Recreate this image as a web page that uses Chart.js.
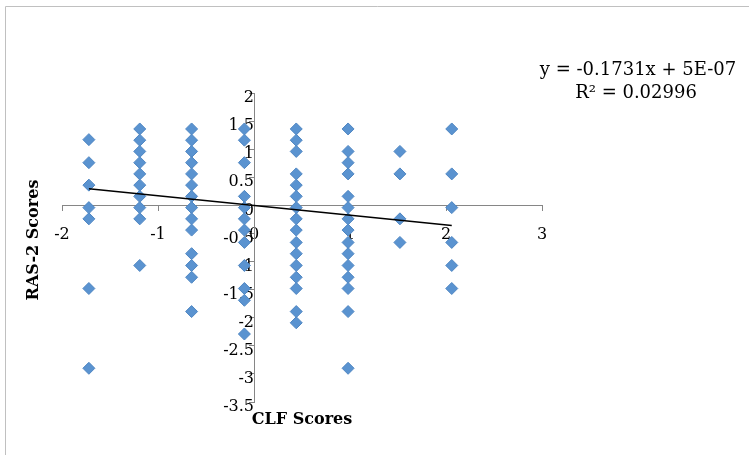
<!DOCTYPE html>
<html>
<head>
<meta charset="utf-8">
<script src="https://cdn.jsdelivr.net/npm/chart.js@4/dist/chart.umd.min.js"></script>
<style>
  html, body { margin: 0; padding: 0; background: #fff; }
  #wrap { width: 749px; height: 455px; position: relative; }
</style>
</head>
<body>
<div id="wrap"><canvas id="c" width="749" height="455"></canvas></div>
<script>
// CLF score levels (x) and the RAS-2 scores seen at each level (y)
const clfLevels = [-1.72, -1.19, -0.65, -0.10, 0.44, 0.98, 1.52, 2.06];
const ras1 = [1.17, 0.76, 0.36, -0.04, -0.24, -1.48, -2.90];
const ras2 = [1.36, 1.16, 0.96, 0.76, 0.56, 0.36, 0.16, -0.04, -0.24, -1.07];
const ras3 = [1.36, 1.16, 0.96, 0.76, 0.56, 0.36, 0.16, -0.04, -0.24, -0.44, -0.86, -1.07, -1.28, -1.89];
const ras4 = [1.36, 1.16, 0.76, 0.16, -0.04, -0.24, -0.44, -0.66, -1.07, -1.48, -1.69, -2.29];
const ras5 = [1.36, 1.16, 0.96, 0.56, 0.36, 0.16, -0.04, -0.24, -0.44, -0.66, -0.86, -1.07, -1.28, -1.48, -1.89, -2.09];
const ras6 = [1.36, 0.96, 0.76, 0.56, 0.16, -0.04, -0.24, -0.44, -0.66, -0.86, -1.07, -1.28, -1.48, -1.89, -2.90];
const ras7 = [0.96, 0.56, -0.24, -0.66];
const ras8 = [1.36, 0.56, -0.04, -0.66, -1.07, -1.48];
const rasColumns = [ras1, ras2, ras3, ras4, ras5, ras6, ras7, ras8];

// linear trendline as printed on the chart
const slope = -0.1731;
const intercept = 5e-7;
const equationText = "y = -0.1731x + 5E-07";
const r2Text = "R\u00b2 = 0.02996";

const xTitle = "CLF Scores";
const yTitle = "RAS-2 Scores";

const points = [];
rasColumns.forEach((col, i) => {
  col.forEach(y => points.push({ x: clfLevels[i], y }));
});

const xMin = clfLevels[0];
const xMax = clfLevels[clfLevels.length - 1];
const trend = [
  { x: xMin, y: slope * xMin + intercept },
  { x: xMax, y: slope * xMax + intercept }
];

const AXIS = "#868686";
const FONT = "'DejaVu Serif', serif";

const decor = {
  id: "decor",
  beforeDraw(chart) {
    const ctx = chart.ctx;
    ctx.save();
    ctx.strokeStyle = "#c0c0c0";
    ctx.lineWidth = 1;
    ctx.beginPath();
    ctx.moveTo(5.5, 455);
    ctx.lineTo(5.5, 6.5);
    ctx.lineTo(749, 6.5);
    ctx.stroke();
    ctx.restore();
  },
  afterDraw(chart) {
    const ctx = chart.ctx;
    const area = chart.chartArea;
    ctx.save();
    ctx.fillStyle = "#000";
    ctx.textAlign = "center";
    ctx.textBaseline = "middle";

    ctx.font = "18px " + FONT;
    ctx.fillText(equationText, 638, 70);
    ctx.fillText(r2Text, 636, 93);

    ctx.font = "bold 16px " + FONT;
    ctx.fillText(xTitle, (area.left + area.right) / 2, 420);

    ctx.translate(34, 240);
    ctx.rotate(-Math.PI / 2);
    ctx.fillText(yTitle, 0, 0);
    ctx.restore();
  }
};

new Chart(document.getElementById("c"), {
  type: "scatter",
  data: {
    datasets: [
      {
        type: "line",
        data: trend,
        borderColor: "#000",
        borderWidth: 1.5,
        pointRadius: 0,
        fill: false,
        order: 0
      },
      {
        data: points,
        pointStyle: "rectRot",
        pointRadius: 6,
        pointHoverRadius: 6,
        backgroundColor: "#5a93d0",
        borderColor: "#4f86c2",
        borderWidth: 1,
        order: 1
      }
    ]
  },
  options: {
    responsive: false,
    animation: false,
    events: [],
    layout: { padding: { left: 62, right: 207, top: 93, bottom: 53 } },
    scales: {
      x: {
        type: "linear",
        position: { y: 0 },
        min: -2,
        max: 3,
        afterFit: s => { s.height = 0; },
        ticks: {
          stepSize: 1,
          padding: 15,
          color: "#000",
          font: { family: FONT, size: 16 },
          callback: v => String(v)
        },
        grid: { drawOnChartArea: false, tickLength: 5, color: AXIS },
        border: { display: true, color: AXIS, width: 1 }
      },
      y: {
        type: "linear",
        position: { x: 0 },
        min: -3.5,
        max: 2,
        afterFit: s => { s.width = 0; },
        ticks: {
          stepSize: 0.5,
          padding: 15,
          labelOffset: 5,
          color: "#000",
          font: { family: FONT, size: 16 },
          callback: v => String(v)
        },
        grid: { drawOnChartArea: false, tickLength: 5, color: AXIS },
        border: { display: true, color: AXIS, width: 1 }
      }
    },
    plugins: {
      legend: { display: false },
      tooltip: { enabled: false }
    }
  },
  plugins: [decor]
});
</script>
</body>
</html>
